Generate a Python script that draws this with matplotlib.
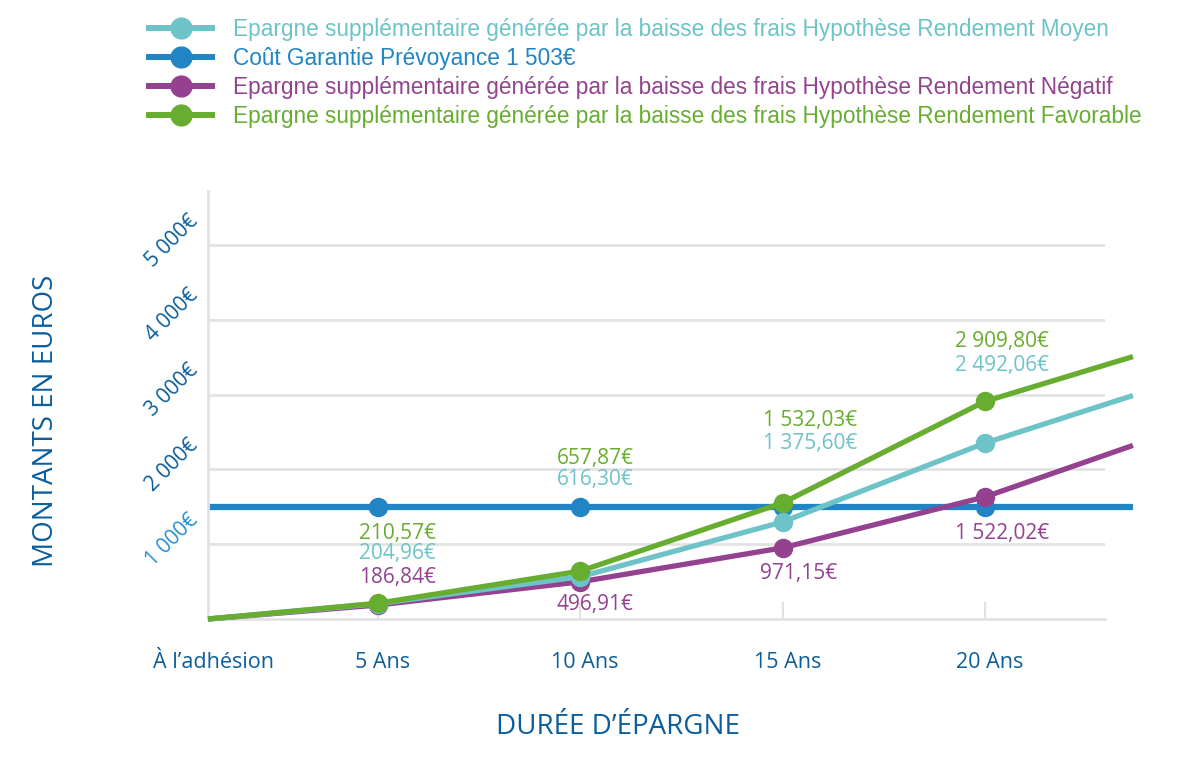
import matplotlib
matplotlib.use("Agg")
import matplotlib.pyplot as plt
from matplotlib.lines import Line2D
from matplotlib.transforms import ScaledTranslation

# ---------------- data ----------------
categories = ["À l’adhésion", "5 Ans", "10 Ans", "15 Ans", "20 Ans"]
years = [0.8, 5, 10, 15, 20]          # category positions (years axis)
year_end = 23.66                       # lines continue past the last category

moyen = [0, 205, 565, 1297, 2351]
moyen_end = 2987
negatif = [0, 187, 497, 951, 1631]
negatif_end = 2320
favorable = [0, 211, 640, 1551, 2907]
favorable_end = 3507
cout_garantie = 1503

labels_fav = ["210,57€", "657,87€", "1 532,03€", "2 909,80€"]
labels_moy = ["204,96€", "616,30€", "1 375,60€", "2 492,06€"]
labels_neg = ["186,84€", "496,91€", "971,15€", "1 522,02€"]

yticks = [1000, 2000, 3000, 4000, 5000]
ytick_labels = ["1 000€", "2 000€", "3 000€", "4 000€", "5 000€"]

legend_labels = [
    "Epargne supplémentaire générée par la baisse des frais Hypothèse Rendement Moyen",
    "Coût Garantie Prévoyance 1 503€",
    "Epargne supplémentaire générée par la baisse des frais Hypothèse Rendement Négatif",
    "Epargne supplémentaire générée par la baisse des frais Hypothèse Rendement Favorable",
]

# ---------------- style ----------------
C_MOY = "#6dc3c7"
C_BLUE = "#2185c5"
C_NEG = "#944290"
C_FAV = "#67ad2f"
C_TXT = "#0a5e9e"
C_GRID = "#e2e2e2"
FONT = "Open Sans"
LW = 3.8
MS = 13

W, H = 1187, 763
fig = plt.figure(figsize=(W / 100, H / 100), dpi=100)
ax = fig.add_axes([208 / W, (H - 619) / H, (1105 - 208) / W, (619 - 191) / H])

ax.set_xlim(years[0], 22.97)
ax.set_ylim(0, 5720)

# grid & spines
for y in yticks:
    ax.axhline(y, color=C_GRID, lw=2, zorder=0)
for s in ["top", "right"]:
    ax.spines[s].set_visible(False)
ax.spines["left"].set_color(C_GRID)
ax.spines["left"].set_linewidth(2)
ax.spines["bottom"].set_color(C_GRID)
ax.spines["bottom"].set_linewidth(2)

# x ticks
ax.set_xticks(years)
ax.set_xticklabels(categories, fontfamily=FONT, fontsize=15.5, color=C_TXT)
ax.tick_params(axis="x", direction="in", length=12, width=1.5, color=C_GRID, pad=24)
ax.xaxis.get_major_ticks()[0].tick1line.set_visible(False)
for lab in ax.get_xticklabels():
    lab.set_transform(lab.get_transform() + ScaledTranslation(5 / 100, 0, fig.dpi_scale_trans))

# y ticks
ax.set_yticks(yticks)
ax.set_yticklabels(ytick_labels, fontfamily=FONT, fontsize=15, color=C_TXT,
                   rotation=45, rotation_mode="anchor", ha="right", va="center")
ax.tick_params(axis="y", length=0, pad=0)
for i, lab in enumerate(ax.get_yticklabels()):
    lab.set_transform(lab.get_transform() + ScaledTranslation(-13 / 100, 27 / 100, fig.dpi_scale_trans))
    if i == 0:
        lab.set_color("#2b8fd0")

# lines
xs = years + [year_end]
ax.plot(xs, [cout_garantie] * len(xs), color=C_BLUE, lw=4.5, zorder=2, clip_on=False,
        solid_capstyle="butt")
ax.plot(years[1:], [cout_garantie] * 4, "o", color=C_BLUE, ms=MS, zorder=2, clip_on=False)

for vals, end, col, z in [(negatif, negatif_end, C_NEG, 3),
                          (moyen, moyen_end, C_MOY, 4),
                          (favorable, favorable_end, C_FAV, 5)]:
    ax.plot(xs, vals + [end], color=col, lw=LW, zorder=z, clip_on=False,
            solid_capstyle="butt")
    ax.plot(years[1:], vals[1:], "o", color=col, ms=MS, zorder=z, clip_on=False)

# value labels (positions are layout, in data units)
lab_fs = 15
lab_dx = [0.48, 0.37, 0.67, 0.43]
fav_y = [1147, 2147, 2653, 3707]
moy_y = [880, 1867, 2347, 3387]
neg_y = [560, 200, 613, 1147]
neg_dx = [0.48, 0.37, 0.40, 0.43]
for i in range(4):
    x = years[i + 1]
    ax.text(x + lab_dx[i], fav_y[i], labels_fav[i], color=C_FAV, fontsize=lab_fs,
            fontfamily=FONT, ha="center", va="center")
    ax.text(x + lab_dx[i], moy_y[i], labels_moy[i], color=C_MOY, fontsize=lab_fs,
            fontfamily=FONT, ha="center", va="center")
    ax.text(x + neg_dx[i], neg_y[i], labels_neg[i], color=C_NEG, fontsize=lab_fs,
            fontfamily=FONT, ha="center", va="center")

# axis titles
fig.text(618 / W, 1 - 727 / H, "DURÉE D’ÉPARGNE", color=C_TXT, fontsize=20,
         fontfamily=FONT, ha="center", va="center")
fig.text(46 / W, 1 - 421 / H, "MONTANTS EN EUROS", color=C_TXT, fontsize=20,
         fontfamily=FONT, ha="center", va="center", rotation=90)

# legend
handles = [Line2D([], [], color=c, lw=4.3, marker="o", ms=15)
           for c in [C_MOY, C_BLUE, C_NEG, C_FAV]]
leg = fig.legend(handles, legend_labels, loc="upper left",
                 bbox_to_anchor=(149 / W, 1 - 18 / H), frameon=False,
                 prop={"family": "Liberation Sans", "size": 16.3},
                 handlelength=2.8, handletextpad=0.9, labelspacing=0.27,
                 borderaxespad=0, borderpad=0)
for t, c in zip(leg.get_texts(), [C_MOY, C_BLUE, C_NEG, C_FAV]):
    t.set_color(c)

fig.savefig("out.png", dpi=100)
